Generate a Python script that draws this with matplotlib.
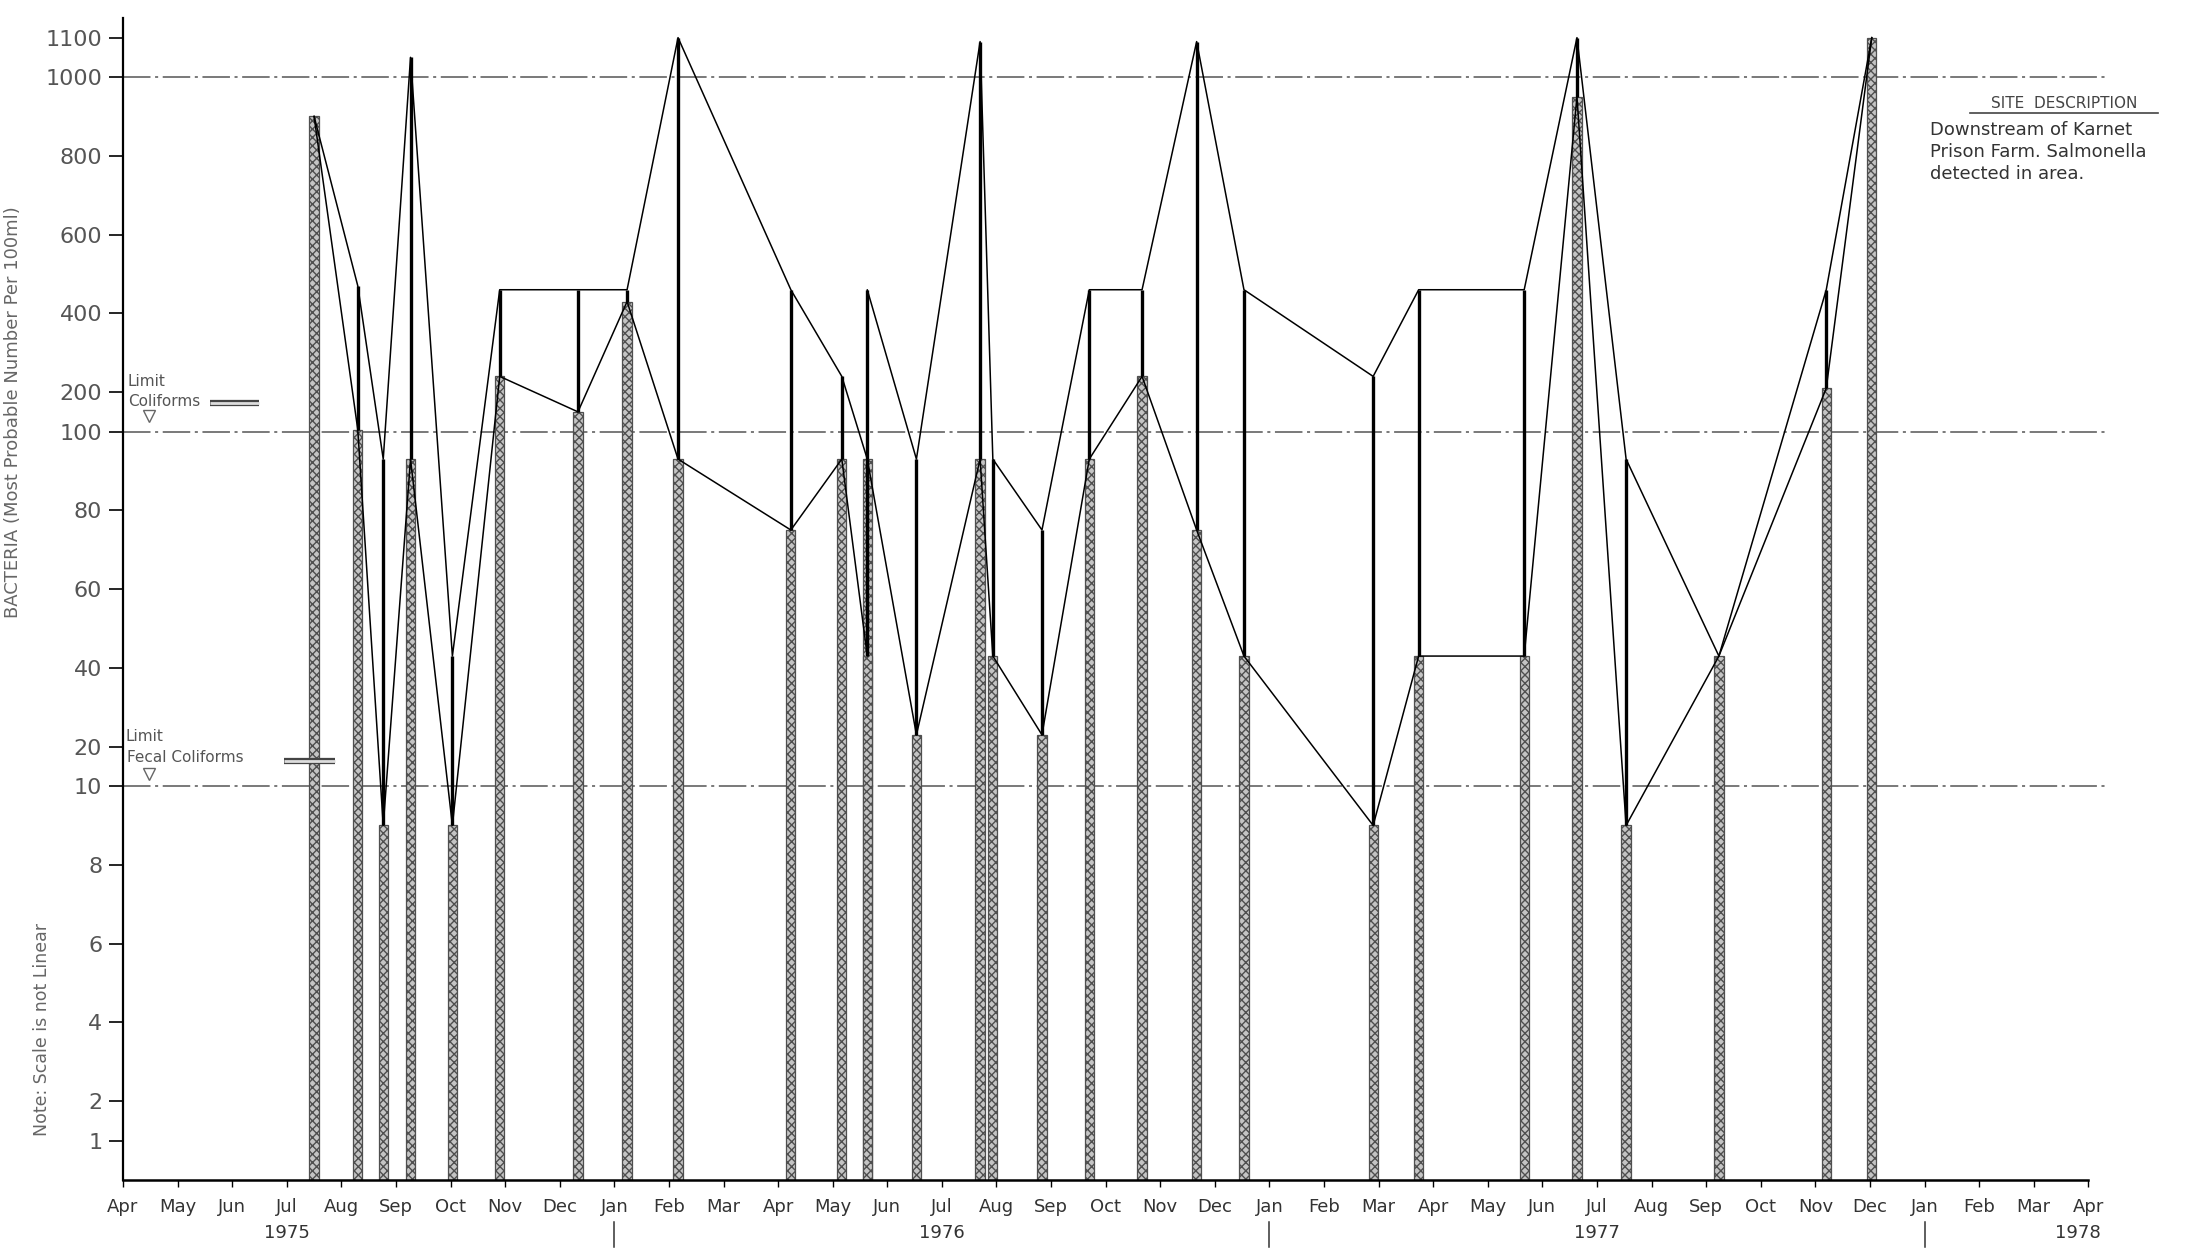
# coding=utf-8
# Bacteria counts downstream of Karnet Prison Farm, Apr 1975 - Apr 1978
import numpy as np
import matplotlib
matplotlib.use('Agg')
import matplotlib.pyplot as plt

# 采样日期与读数 (MPN per 100ml)
sample_dates = ['1975-07-16', '1975-08-10', '1975-08-24', '1975-09-09', '1975-10-02',
                '1975-10-28', '1975-12-11', '1976-01-08', '1976-02-06', '1976-04-08',
                '1976-05-06', '1976-05-20', '1976-05-20', '1976-06-17', '1976-07-22',
                '1976-07-29', '1976-08-26', '1976-09-22', '1976-10-21', '1976-11-21',
                '1976-12-17', '1977-02-28', '1977-03-23', '1977-05-21', '1977-06-20',
                '1977-07-17', '1977-09-08', '1977-11-07', '1977-12-02']
total_coliforms = [900, 470, 93, 1050, 43,
                   460, 460, 460, 1100, 460,
                   240, 93, 460, 93, 1090,
                   93, 75, 460, 460, 1090,
                   460, 240, 460, 460, 1100,
                   93, 43, 460, 1100]
fecal_coliforms = [900, 105, 9, 93, 9,
                   240, 150, 430, 93, 75,
                   93, 43, 93, 23, 93,
                   43, 23, 93, 240, 75,
                   43, 9, 43, 43, 950,
                   9, 43, 210, 1100]

month_names = ['Apr', 'May', 'Jun', 'Jul', 'Aug', 'Sep', 'Oct', 'Nov', 'Dec', 'Jan', 'Feb', 'Mar'] * 3 + ['Apr']
year_labels = ['1975', '1976', '1977', '1978']
year_label_dates = ['1975-07-01', '1976-07-01', '1977-07-01', '1978-03-25']
year_break_dates = ['1976-01-01', '1977-01-01', '1978-01-01']

ytick_values = [1, 2, 4, 6, 8, 10, 20, 40, 60, 80, 100, 200, 400, 600, 800, 1000, 1100]
limit_values = [1000, 100, 10]

# 非线性刻度 (Scale is not Linear)
scale_values = [0, 1, 2, 4, 6, 8, 10, 20, 40, 60, 80, 100, 200, 400, 600, 800, 1000, 1100, 1200]
scale_steps = [0, 0.5, 1, 2, 3, 4, 5, 5.5, 6.5, 7.5, 8.5, 9.5, 10, 11, 12, 13, 14, 14.5, 15]


def fwd(v):
    return np.interp(np.asarray(v, dtype=float), scale_values, scale_steps)


def inv(u):
    return np.interp(np.asarray(u, dtype=float), scale_steps, scale_values)


def month_index(d):
    y, m, dd = (int(p) for p in d.split('-'))
    return (y - 1975) * 12 + (m - 4) + (dd - 1) / 30.0


x = np.array([month_index(d) for d in sample_dates])
tot = np.array(total_coliforms, dtype=float)
fec = np.array(fecal_coliforms, dtype=float)

plt.rcParams['font.family'] = ['DejaVu Sans']
plt.rcParams['hatch.linewidth'] = 1.0
fig = plt.figure(figsize=(21.89, 12.55), dpi=100)
ax = fig.add_axes([0.0562, 0.0598, 0.8978, 0.9259])
ax.set_yscale('function', functions=(fwd, inv))
ax.set_xlim(0, 36)
ax.set_ylim(0, 1150)

# limit lines
for v in limit_values:
    ax.plot([0, 36.3], [v, v], color='#555555', lw=1.1, dashes=(18, 3, 2, 3),
            clip_on=False, zorder=1)

# hatched bars = fecal, solid line up to total
ax.bar(x, fec, width=0.17, color='#c4c4c4', edgecolor='#4f4f4f', hatch='xxxx',
       linewidth=0.9, zorder=2)
ax.vlines(x, fec, tot, colors='black', lw=2.4, zorder=3)
ax.plot(x, tot, color='black', lw=1.1, zorder=4)
ax.plot(x, fec, color='black', lw=1.1, zorder=4)

# axes
for s in ['top', 'right']:
    ax.spines[s].set_visible(False)
ax.spines['left'].set_linewidth(1.6)
ax.spines['bottom'].set_linewidth(1.8)

ax.set_yticks(ytick_values)
ax.set_yticklabels([str(v) for v in ytick_values])
ax.tick_params(axis='y', direction='out', length=10, width=1.2, pad=5,
               labelsize=16, labelcolor='#555555')
ax.set_xticks(range(len(month_names)))
ax.set_xticklabels(month_names)
ax.tick_params(axis='x', direction='out', length=5, width=1, pad=8,
               labelsize=13, labelcolor='#333333')

xt = ax.get_xaxis_transform()
for lab, d in zip(year_labels, year_label_dates):
    ax.text(month_index(d), -0.046, lab, transform=xt, ha='center', va='center',
            fontsize=13, color='#333333')
for d in year_break_dates:
    ax.plot([month_index(d)] * 2, [-0.036, -0.058], transform=xt, color='#333333',
            lw=1.1, clip_on=False)

# limit annotations
ax.text(0.09, 228, 'Limit', fontsize=11, color='#555555', va='center')
ax.text(0.09, 176, 'Coliforms', fontsize=11, color='#555555', va='center')
ax.plot([1.6, 2.5], [172, 172], color='#444444', lw=4.5, solid_capstyle='butt')
ax.plot([1.6, 2.5], [172, 172], color='#dddddd', lw=2, solid_capstyle='butt')
ax.plot([0.48], [140], marker='v', ms=9, mfc='none', mec='#666666')

ax.text(0.05, 22.6, 'Limit', fontsize=11, color='#555555', va='center')
ax.text(0.07, 17.2, 'Fecal Coliforms', fontsize=11, color='#555555', va='center')
ax.plot([2.95, 3.88], [16.4, 16.4], color='#444444', lw=4.5, solid_capstyle='butt')
ax.plot([2.95, 3.88], [16.4, 16.4], color='#dddddd', lw=2, solid_capstyle='butt')
ax.plot([0.48], [13], marker='v', ms=9, mfc='none', mec='#666666')

# side labels
fig.text(0.006, 0.672, 'BACTERIA (Most Probable Number Per 100ml)', rotation=90,
         ha='center', va='center', fontsize=13, color='#666666')
fig.text(0.019, 0.18, 'Note: Scale is not Linear', rotation=90,
         ha='center', va='center', fontsize=12.5, color='#666666')

# site description
fig.text(2064 / 2189, 1 - 103 / 1255, 'SITE  DESCRIPTION', ha='center', va='center',
         fontsize=11, color='#444444')
fig.add_artist(plt.Line2D([1970 / 2189, 2158 / 2189], [1 - 113 / 1255] * 2,
                          color='#444444', lw=1.2))
site_lines = ['Downstream of Karnet', 'Prison Farm. Salmonella', 'detected in area.']
for i, t in enumerate(site_lines):
    fig.text(1930 / 2189, 1 - (130 + 22 * i) / 1255, t, ha='left', va='center',
             fontsize=13, color='#333333')

plt.savefig('out.png', dpi=100)
